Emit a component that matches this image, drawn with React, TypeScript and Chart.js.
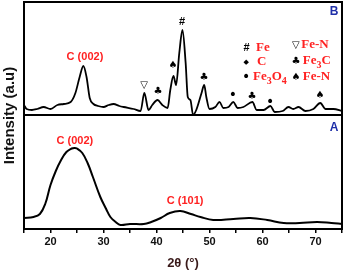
import React, { useEffect, useRef } from 'react';
import { Chart, registerables } from 'chart.js';

Chart.register(...registerables);

// ---- Data (2θ in degrees, intensity in arbitrary units) ----
const thetaA = [15, 16.8, 18, 19, 20, 21, 22, 23, 24, 24.5, 25, 26, 27, 28, 29.4, 30.5, 31.3, 32.3, 33.2, 35, 37.6, 39, 40.8, 42.5, 44.5, 46.5, 48.3, 50.7, 54.5, 57.7, 60.9, 64, 67, 70.3, 73, 75];
const intensityA = [11, 12, 15, 25, 44, 58, 69, 77, 80.5, 81, 80.5, 76, 66, 52, 32, 20, 12, 7, 4, 5, 5, 7, 11, 16, 18, 15, 12, 9, 10, 11, 9, 6, 6, 7, 6, 5];

const thetaB = [15, 15.5, 16.5, 17.5, 18.7, 20, 21.3, 22.5, 23.8, 24.7, 25.5, 26.2, 26.8, 27.4, 28.1, 29, 30, 31, 31.9, 33, 33.8, 35.7, 37, 37.7, 38.5, 39.2, 40.2, 41.1, 42.1, 42.6, 43.2, 43.7, 44.3, 44.9, 45.5, 45.9, 46.4, 46.9, 47.5, 48.5, 49, 49.4, 50, 51.1, 51.9, 52.6, 53.6, 54.5, 55.3, 56.4, 58.1, 58.9, 60.2, 61.5, 62.3, 63.8, 64.9, 65.8, 66.8, 68.1, 69.6, 70.9, 71.9, 73.4, 75];
const intensityB = [124, 120, 119, 120, 122, 120, 124, 125, 127, 136, 152, 163, 152, 131, 125, 123, 122, 124, 125, 123, 122, 120, 118, 136, 119, 124, 129, 124, 121, 139, 153, 144, 176, 199, 166, 132, 129, 114, 119, 136, 144, 132, 120, 122, 127, 121, 122, 127, 121, 122, 127, 119, 119, 123, 117, 118, 122, 120, 122, 118, 120, 126, 120, 120, 118];

const xMin = 15;
const xMax = 75;
const xStep = 5;
const xLabelTicks = [20, 30, 40, 50, 60, 70];
const yMax = 227;
const panelDivider = 114;

// Phase markers above peaks: [symbol, 2θ, intensity]
const markSymbols = ['▽', '♣', '♠', '#', '♣', '•', '♣', '•', '♠'];
const markTheta = [37.64, 40.28, 43.11, 44.81, 48.96, 54.43, 58.02, 61.42, 70.85];
const markLevel = [144, 138, 164, 207, 152, 134, 133, 127, 134];

// Peak labels
const peakTexts = ['C (002)', 'C (002)', 'C (101)'];
const peakTheta = [26.5, 24.6, 45.4];
const peakLevel = [172, 88, 28];

// Panel letters
const panelTexts = ['B', 'A'];
const panelTheta = [73.5, 73.5];
const panelLevel = [217, 101.5];

// Legend: symbol, text parts (subscript flagged)
const legendSymbols = ['#', '◆', '•', '▽', '♣', '♠'];
const legendTexts: [string, boolean][][] = [
  [['Fe', false]],
  [['C', false]],
  [['Fe', false], ['3', true], ['O', false], ['4', true]],
  [['Fe-N', false]],
  [['Fe', false], ['3', true], ['C', false]],
  [['Fe-N', false]],
];
const legendSymTheta = [56.98, 56.9, 56.9, 66.3, 66.3, 66.3];
const legendTextTheta = [58.77, 58.96, 58.2, 67.3, 67.6, 67.6];
const legendLevel = [181, 167, 152, 184, 168, 152];

const RED = '#ff2222';

const symbolFont = (s: string) =>
  s === '#'
    ? 'bold 11px "Liberation Sans", sans-serif'
    : s === '•'
    ? '14px "DejaVu Sans", sans-serif'
    : s === '◆'
    ? '7px "DejaVu Sans", sans-serif'
    : '10px "DejaVu Sans", sans-serif';

const annotationPlugin = {
  id: 'xrdAnnotations',
  afterDatasetsDraw(chart: any) {
    const { ctx, chartArea, scales } = chart;
    const xs = scales.x;
    const ys = scales.y;
    ctx.save();
    // frame
    ctx.strokeStyle = '#000';
    ctx.lineWidth = 2;
    ctx.strokeRect(chartArea.left, chartArea.top, chartArea.right - chartArea.left, chartArea.bottom - chartArea.top);

    ctx.textAlign = 'center';
    ctx.textBaseline = 'middle';

    // peak labels
    ctx.fillStyle = RED;
    ctx.font = 'bold 11px "Liberation Sans", Arial, sans-serif';
    peakTexts.forEach((t, i) => {
      ctx.fillText(t, xs.getPixelForValue(peakTheta[i]), ys.getPixelForValue(peakLevel[i]));
    });

    // panel letters
    ctx.fillStyle = '#1f2fa8';
    ctx.font = 'bold 12px "Liberation Sans", Arial, sans-serif';
    panelTexts.forEach((t, i) => {
      ctx.fillText(t, xs.getPixelForValue(panelTheta[i]), ys.getPixelForValue(panelLevel[i]));
    });

    // phase markers
    ctx.fillStyle = '#000';
    markSymbols.forEach((s, i) => {
      ctx.font = symbolFont(s);
      ctx.fillText(s, xs.getPixelForValue(markTheta[i]), ys.getPixelForValue(markLevel[i]));
    });

    // legend symbols
    legendSymbols.forEach((s, i) => {
      ctx.fillStyle = '#000';
      ctx.font = symbolFont(s);
      ctx.fillText(s, xs.getPixelForValue(legendSymTheta[i]), ys.getPixelForValue(legendLevel[i]));
    });

    // legend texts
    ctx.textAlign = 'left';
    ctx.fillStyle = RED;
    legendTexts.forEach((parts, i) => {
      let x = xs.getPixelForValue(legendTextTheta[i]);
      const y = ys.getPixelForValue(legendLevel[i]);
      parts.forEach(([t, sub]) => {
        ctx.font = sub ? 'bold 10px "Liberation Serif", serif' : 'bold 13px "Liberation Serif", serif';
        ctx.fillText(t, x, sub ? y + 4 : y);
        x += ctx.measureText(t).width;
      });
    });
    ctx.restore();
  },
};

export default function App() {
  const ref = useRef<HTMLCanvasElement | null>(null);

  useEffect(() => {
    if (!ref.current) return;
    const chart = new Chart(ref.current, {
      type: 'line',
      data: {
        datasets: [
          {
            label: 'A',
            data: thetaA.map((t, i) => ({ x: t, y: intensityA[i] })),
            borderColor: '#000',
            borderWidth: 2,
            pointRadius: 0,
            tension: 0.4,
            fill: false,
          },
          {
            label: 'B',
            data: thetaB.map((t, i) => ({ x: t, y: intensityB[i] })),
            borderColor: '#000',
            borderWidth: 1.8,
            pointRadius: 0,
            cubicInterpolationMode: 'monotone',
            fill: false,
          },
        ],
      },
      options: {
        animation: false,
        responsive: false,
        devicePixelRatio: 1,
        layout: { padding: { top: 2, right: 3, left: 0, bottom: 0 } },
        plugins: { legend: { display: false }, tooltip: { enabled: false } },
        scales: {
          x: {
            type: 'linear',
            min: xMin,
            max: xMax,
            ticks: {
              stepSize: xStep,
              autoSkip: false,
              maxRotation: 0,
              padding: 2,
              color: '#111',
              font: { family: '"Liberation Sans", Arial, sans-serif', weight: 'bold', size: 11 },
              callback: (v: any) => (xLabelTicks.includes(Number(v)) ? String(v) : ''),
            },
            grid: { drawOnChartArea: false, drawTicks: true, tickLength: 4, color: '#000', lineWidth: 1.5 },
            border: { color: '#000', width: 2 },
            title: {
              display: true,
              text: '2θ (°)',
              color: '#3a1a1a',
              font: { family: '"Liberation Sans", Arial, sans-serif', weight: 'bold', size: 13 },
              padding: { top: 0, bottom: 2 },
            },
            afterFit: (s: any) => {
              s.height = 44;
            },
          },
          y: {
            min: 0,
            max: yMax,
            afterBuildTicks: (s: any) => {
              s.ticks = [{ value: panelDivider }];
            },
            ticks: { display: false },
            grid: { drawTicks: false, color: '#000', lineWidth: 2 },
            border: { color: '#000', width: 2 },
            title: {
              display: true,
              text: 'Intensity (a.u)',
              color: '#111',
              font: { family: '"Liberation Sans", Arial, sans-serif', weight: 'bold', size: 15, lineHeight: 1.2 },
              padding: { top: 1, bottom: 0 },
            },
            afterFit: (s: any) => {
              s.width = 24;
            },
          },
        },
      } as any,
      plugins: [annotationPlugin],
    });
    return () => chart.destroy();
  }, []);

  return (
    <div style={{ position: 'absolute', left: 0, top: 0, width: 345, height: 273, background: '#fff' }}>
      <canvas ref={ref} width={345} height={273} />
    </div>
  );
}
